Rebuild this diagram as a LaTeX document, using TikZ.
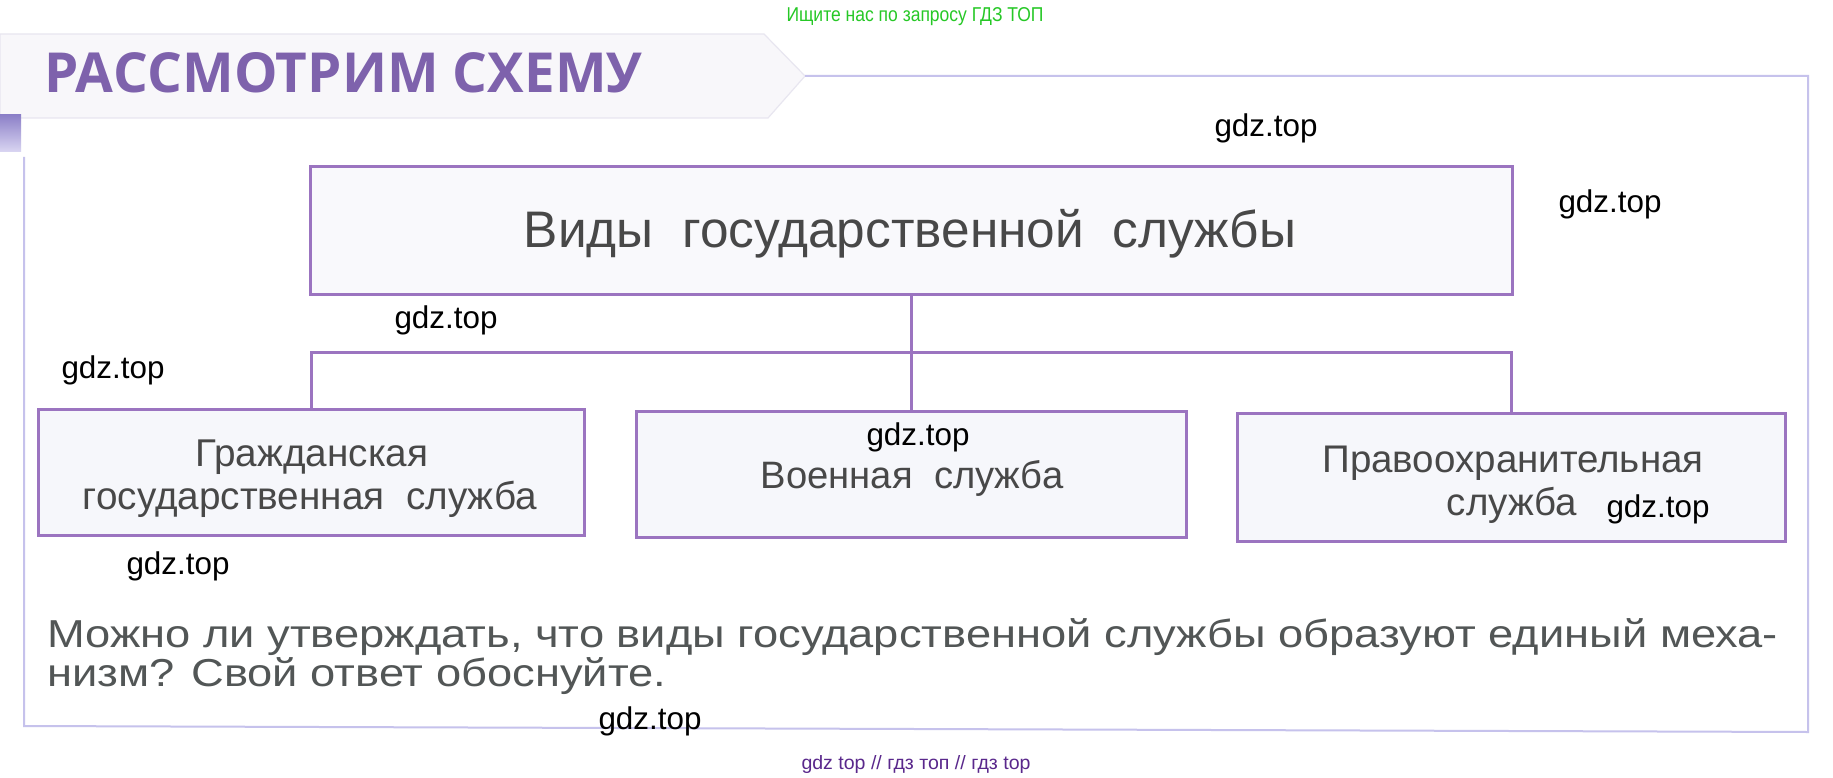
\documentclass[tikz,border=0pt]{standalone}
\usepackage{fontspec}
\usepackage{graphicx}
\setmainfont{Liberation Sans}
\newfontfamily\titlefont{Open Sans}
\definecolor{boxpurple}{RGB}{155,116,192}
\definecolor{boxfill}{RGB}{246,247,251}
\definecolor{topfill}{RGB}{249,249,252}
\definecolor{txtgray}{RGB}{72,72,72}
\definecolor{qgray}{RGB}{82,86,86}
\definecolor{framelav}{RGB}{198,194,236}
\definecolor{titlepurple}{RGB}{126,98,172}
\definecolor{wmgreen}{RGB}{38,200,38}
\definecolor{wmpurple}{RGB}{90,40,140}
\definecolor{ribbonfill}{RGB}{248,247,250}
\definecolor{ribbonline}{RGB}{232,230,240}
\newcommand\sqtxt[2]{{\fontsize{#1}{#1}\selectfont #2}}
\newcommand\qline[1]{\scalebox{1}[0.86]{\fontsize{45.3}{45.3}\selectfont #1}}
\tikzset{
  box/.style={draw=boxpurple, line width=3pt, fill=boxfill, inner sep=0pt},
  conn/.style={draw=boxpurple, line width=3pt},
  btxt/.style={anchor=base, inner sep=0pt, text=txtgray},
  qtxt/.style={anchor=base west, inner sep=0pt, text=qgray},
  wm/.style={anchor=base, inner sep=0pt, text=black, font=\fontsize{31.4}{31.4}\selectfont},
}
\begin{document}
\begin{tikzpicture}[x=1pt,y=-1pt]
\useasboundingbox (0,0) rectangle (1833,778);
\fill[white] (0,0) rectangle (1833,778);
% title ribbon
\filldraw[fill=ribbonfill, draw=ribbonline, line width=1.2pt]
  (0,34) -- (764,34) -- (805,76) -- (768,118) -- (0,118) -- cycle;
% frame
\draw[framelav, line width=2pt] (805,76) -- (1808,76) -- (1808,732) -- (24,726) -- (24,157);
% purple tab
\fill[top color={rgb,255:red,140;green,128;blue,200}, bottom color={rgb,255:red,218;green,214;blue,242}]
  (0,115) rectangle (21,152);
% title
\node[anchor=base west, inner sep=0pt, text=titlepurple] (title) at (44,93)
  {\resizebox{598pt}{40pt}{\titlefont\bfseries РАССМОТРИМ СХЕМУ}};
% boxes
\node[box, fill=topfill, minimum width=1202pt, minimum height=127pt] (top) at (911,230.5) {};
\node[box, minimum width=546pt, minimum height=126pt] (civ) at (311,472) {};
\node[box, minimum width=550pt, minimum height=126pt] (mil) at (911,474) {};
\node[box, minimum width=548pt, minimum height=128pt] (law) at (1511,477) {};
% connectors
\coordinate (bus) at (911,352);
\draw[conn] (top.south) -- (mil.north);
\draw[conn] (civ.north) |- (bus) -| (law.north);
% box texts
\node[btxt] (toptext) at (910,247) {\sqtxt{51.4}{Виды\ \ государственной\ \ службы}};
\node[btxt] (civtext1) at (312,466) {\sqtxt{38.7}{Гражданская}};
\node[btxt] (civtext2) at (310,509) {\sqtxt{38.7}{государственная\ \ служба}};
\node[btxt] (miltext) at (912,488) {\sqtxt{38.2}{Военная\ \ служба}};
\node[btxt] (lawtext1) at (1513,472) {\sqtxt{38.5}{Правоохранительная}};
\node[btxt] (lawtext2) at (1512,515) {\sqtxt{38.5}{служба}};
% question
\node[qtxt] (q1) at (47,647) {\qline{Можно ли утверждать, что виды государственной службы образуют единый меха-}};
\node[qtxt] (q2) at (47,686) {\qline{низм? Свой ответ обоснуйте.}};
% watermarks
\node[wm] (wm1) at (1266,137) {gdz.top};
\node[wm] (wm2) at (1610,213) {gdz.top};
\node[wm] (wm3) at (446,328) {gdz.top};
\node[wm] (wm4) at (113,378) {gdz.top};
\node[wm] (wm5) at (918,445) {gdz.top};
\node[wm] (wm6) at (1658,517) {gdz.top};
\node[wm] (wm7) at (178,574) {gdz.top};
\node[wm] (wm8) at (650,729) {gdz.top};
\node[anchor=base, inner sep=0pt, text=wmgreen] (green) at (915,22)
  {\resizebox{257pt}{14pt}{Ищите нас по запросу ГДЗ ТОП}};
\node[anchor=base, inner sep=0pt, text=wmpurple] (foot) at (916,769)
  {\resizebox{229pt}{14pt}{gdz top // гдз топ // гдз top}};
\end{tikzpicture}
\end{document}
